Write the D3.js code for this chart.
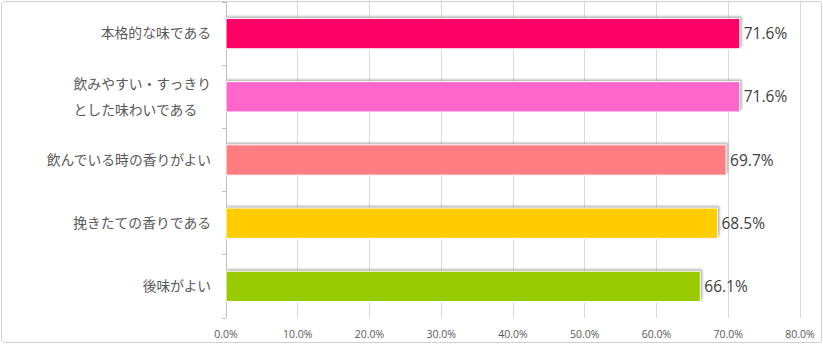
<!DOCTYPE html>
<html>
<head>
<meta charset="utf-8">
<script src="https://cdn.jsdelivr.net/npm/d3@7"></script>
<style>
  html, body { margin: 0; padding: 0; background: #fff; }
  svg { display: block; }
</style>
</head>
<body>
<div id="chart"></div>
<script>
const categories = [
  ['本格的な味である'],
  ['飲みやすい・すっきり', 'とした味わいである\u3000'],
  ['飲んでいる時の香りがよい'],
  ['挽きたての香りである'],
  ['後味がよい']
];
const values = [71.6, 71.6, 69.7, 68.5, 66.1];
const barColors = ['#FF0066', '#FF66CC', '#FF7C80', '#FFCC00', '#99CC00'];
const xTicks = [0, 10, 20, 30, 40, 50, 60, 70, 80];

const width = 823, height = 345;
const margin = { top: 2, right: 23, bottom: 27, left: 226 };
const jpFont = '"Noto Sans CJK JP", "Noto Sans", sans-serif';

const svg = d3.select('#chart')
  .append('svg')
  .attr('width', width)
  .attr('height', height);

// outer frame
svg.append('rect')
  .attr('x', 1.5).attr('y', 1.5)
  .attr('width', width - 3).attr('height', height - 4)
  .attr('rx', 3)
  .attr('fill', '#fff')
  .attr('stroke', '#d0d0d0')
  .attr('stroke-width', 1);

const defs = svg.append('defs');
const shadow = defs.append('filter')
  .attr('id', 'shadow')
  .attr('x', '-5%').attr('y', '-30%')
  .attr('width', '110%').attr('height', '160%');
shadow.append('feGaussianBlur').attr('stdDeviation', 1);

const x = d3.scaleLinear()
  .domain([0, 80])
  .range([margin.left, width - margin.right]);

const y = d3.scaleBand()
  .domain(d3.range(categories.length))
  .range([margin.top, height - margin.bottom])
  .paddingInner(0.52)
  .paddingOuter(0.26);

const bandTop = margin.top;
const bandBottom = height - margin.bottom;

// grid lines
svg.append('g')
  .selectAll('line')
  .data(xTicks.slice(1))
  .join('line')
  .attr('x1', d => x(d)).attr('x2', d => x(d))
  .attr('y1', bandTop).attr('y2', bandBottom)
  .attr('stroke', '#d9d9d9')
  .attr('stroke-width', 1)
  .attr('shape-rendering', 'crispEdges');

// x tick labels
svg.append('g')
  .selectAll('text')
  .data(xTicks)
  .join('text')
  .attr('x', d => x(d))
  .attr('y', 338)
  .attr('text-anchor', 'middle')
  .attr('fill', '#595959')
  .style('font-family', '"Open Sans", "DejaVu Sans", sans-serif')
  .style('font-size', '10.5px')
  .text(d => d.toFixed(1) + '%');

// left axis with category separators
const yAxis = svg.append('g').attr('shape-rendering', 'crispEdges');
yAxis.append('line')
  .attr('x1', x(0)).attr('x2', x(0))
  .attr('y1', bandTop).attr('y2', bandBottom)
  .attr('stroke', '#bfbfbf');
yAxis.selectAll('line.tick')
  .data(d3.range(categories.length + 1))
  .join('line')
  .attr('class', 'tick')
  .attr('x1', x(0) - 4).attr('x2', x(0))
  .attr('y1', i => bandTop + i * (bandBottom - bandTop) / categories.length)
  .attr('y2', i => bandTop + i * (bandBottom - bandTop) / categories.length)
  .attr('stroke', '#bfbfbf');

// bars: shadow then fill
const bars = svg.append('g');
bars.selectAll('rect.shadow')
  .data(values)
  .join('rect')
  .attr('class', 'shadow')
  .attr('x', x(0) + 1)
  .attr('y', (d, i) => y(i) - 2)
  .attr('width', d => x(d) - x(0) + 1)
  .attr('height', y.bandwidth())
  .attr('fill', '#8c8c8c')
  .attr('opacity', 0.7)
  .attr('filter', 'url(#shadow)');

bars.selectAll('rect.bar')
  .data(values)
  .join('rect')
  .attr('class', 'bar')
  .attr('x', x(0))
  .attr('y', (d, i) => y(i))
  .attr('width', d => x(d) - x(0))
  .attr('height', y.bandwidth())
  .attr('fill', (d, i) => barColors[i])
  .attr('stroke', '#fff')
  .attr('stroke-width', 1);

// value labels
svg.append('g')
  .selectAll('text')
  .data(values)
  .join('text')
  .attr('x', d => x(d) + 4)
  .attr('y', (d, i) => y(i) + y.bandwidth() / 2)
  .attr('dy', '0.36em')
  .attr('fill', '#404040')
  .style('font-family', '"Open Sans", "DejaVu Sans", sans-serif')
  .style('font-size', '15.5px')
  .text(d => d.toFixed(1) + '%');

// category labels
const labels = svg.append('g');
categories.forEach((lines, i) => {
  const cy = y(i) + y.bandwidth() / 2;
  const t = labels.append('text')
    .attr('text-anchor', 'end')
    .attr('fill', '#595959')
    .style('font-family', jpFont)
    .style('font-size', '13.8px');
  lines.forEach((line, j) => {
    t.append('tspan')
      .attr('x', 211)
      .attr('y', cy + (j - (lines.length - 1) / 2) * 26)
      .attr('dy', '0.35em')
      .text(line);
  });
});
</script>
</body>
</html>
